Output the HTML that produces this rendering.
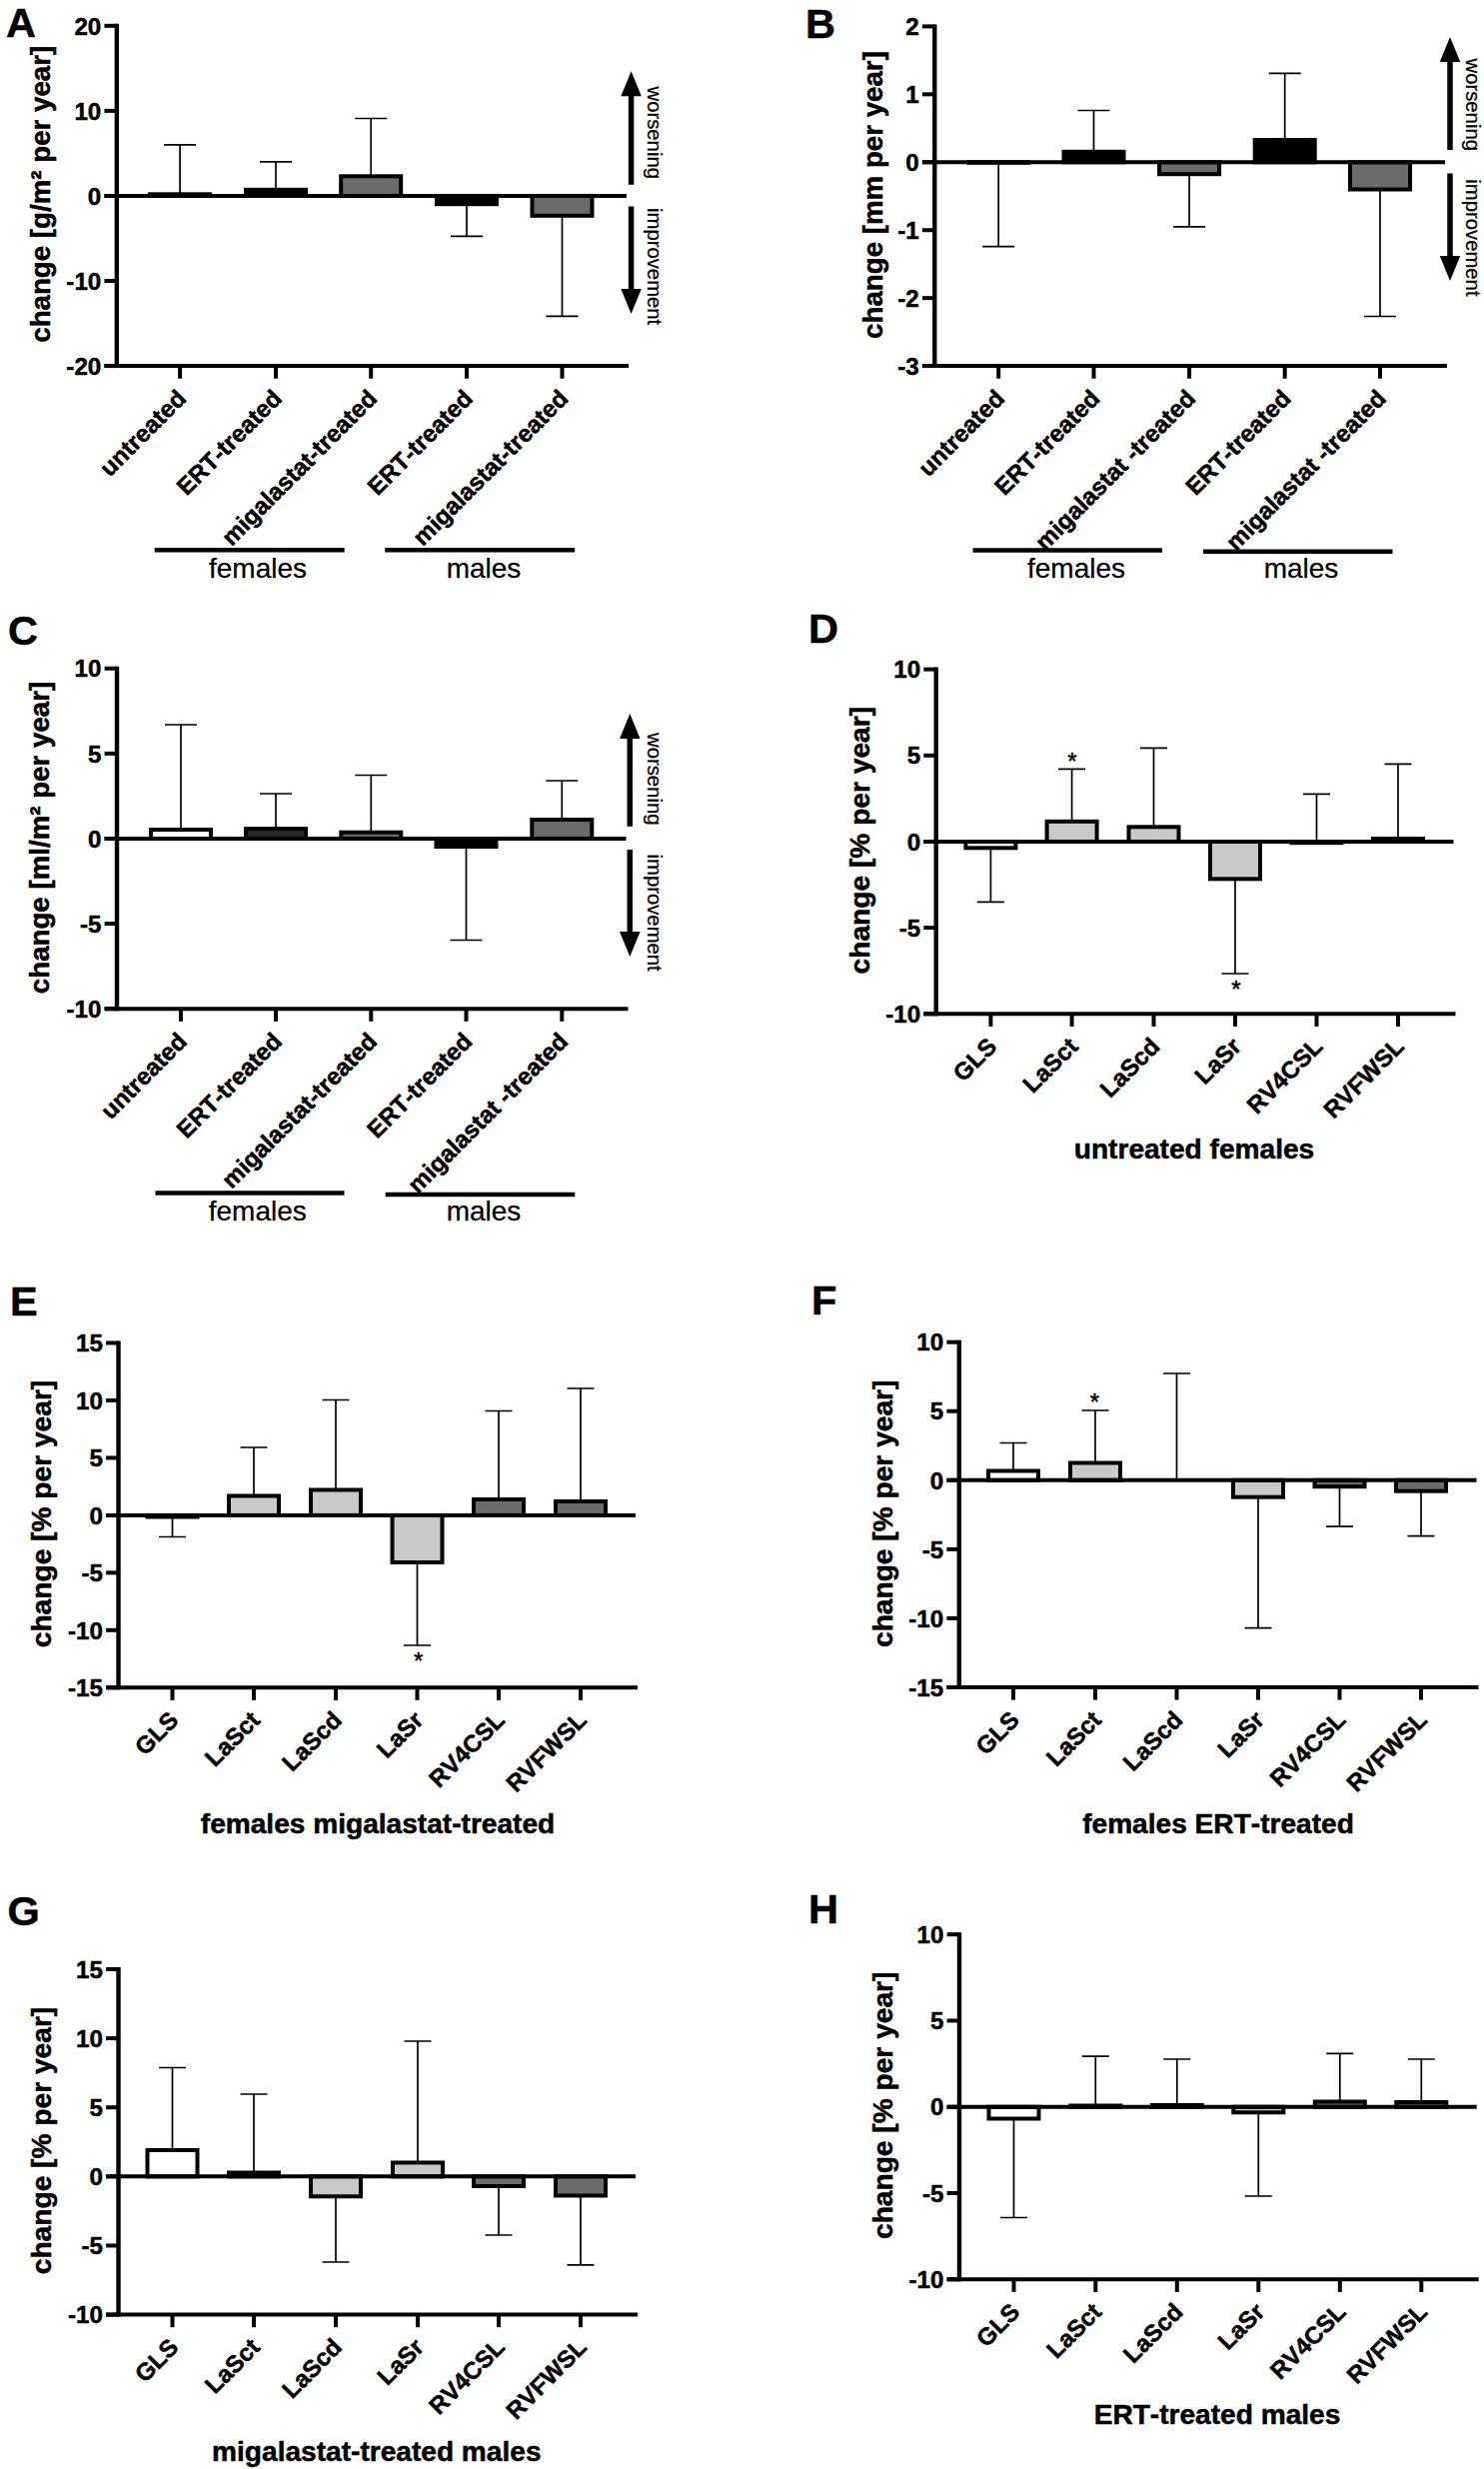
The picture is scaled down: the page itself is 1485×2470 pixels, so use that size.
<!DOCTYPE html>
<html lang="en"><head><meta charset="utf-8"><title>Figure</title>
<style>
html,body{margin:0;padding:0;background:#fff}
body{width:1485px;height:2470px;overflow:hidden}
text{stroke:#000;stroke-width:.25px;stroke-linejoin:round}
text[font-weight="700"]{stroke-width:.5px}
svg{display:block;font-kerning:none;font-family:"Liberation Sans",sans-serif;fill:#000}
</style></head><body>
<svg width="1485" height="2470" viewBox="0 0 1485 2470">
<rect width="1485" height="2470" fill="#fff"/>
<g>
<text x="6" y="37" font-size="41.5" font-weight="700">A</text>
<text transform="translate(49.5,194.3) rotate(-90)" text-anchor="middle" font-size="27.7" font-weight="700">change [g/m² per year]</text>
<path d="M180.1 194.3V144.8M164.1 144.8H196.1" stroke="#000" stroke-width="1.7" fill="none"/>
<rect x="150.10" y="194.30" width="60.00" height="1.65" fill="#fff" stroke="#000" stroke-width="4"/>
<path d="M276 189.8V161.8M260.0 161.8H292.0" stroke="#000" stroke-width="1.7" fill="none"/>
<rect x="246.00" y="189.80" width="60.00" height="6.15" fill="#000" stroke="#000" stroke-width="4"/>
<path d="M371.2 176.3V118.5M355.2 118.5H387.2" stroke="#000" stroke-width="1.7" fill="none"/>
<rect x="341.20" y="176.30" width="60.00" height="19.65" fill="#6b6b6b" stroke="#000" stroke-width="4"/>
<path d="M467 204.2V236.4M451.0 236.4H483.0" stroke="#000" stroke-width="1.7" fill="none"/>
<rect x="437.00" y="195.95" width="60.00" height="8.25" fill="#000" stroke="#000" stroke-width="4"/>
<path d="M562.5 215.8V316.4M546.5 316.4H578.5" stroke="#000" stroke-width="1.7" fill="none"/>
<rect x="532.50" y="195.95" width="60.00" height="19.85" fill="#6b6b6b" stroke="#000" stroke-width="4"/>
<path d="M116.85 23.8V368.1" stroke="#000" stroke-width="4.4"/>
<path d="M104.44999999999999 366.1H629M104.44999999999999 195.95H627" stroke="#000" stroke-width="4"/>
<path d="M104.44999999999999 25.80H116.85" stroke="#000" stroke-width="4"/>
<text x="101.25" y="34.50" text-anchor="end" font-size="24.15" font-weight="700">20</text>
<path d="M104.44999999999999 110.88H116.85" stroke="#000" stroke-width="4"/>
<text x="101.25" y="119.58" text-anchor="end" font-size="24.15" font-weight="700">10</text>
<path d="M104.44999999999999 195.95H116.85" stroke="#000" stroke-width="4"/>
<text x="101.25" y="204.65" text-anchor="end" font-size="24.15" font-weight="700">0</text>
<path d="M104.44999999999999 281.02H116.85" stroke="#000" stroke-width="4"/>
<text x="101.25" y="289.72" text-anchor="end" font-size="24.15" font-weight="700">-10</text>
<path d="M104.44999999999999 366.10H116.85" stroke="#000" stroke-width="4"/>
<text x="101.25" y="374.80" text-anchor="end" font-size="24.15" font-weight="700">-20</text>
<path d="M180.1 366.1V378.70000000000005" stroke="#000" stroke-width="4"/>
<text transform="translate(187.6,400.1) rotate(-45)" text-anchor="end" font-size="24.15" font-weight="700">untreated</text>
<path d="M276 366.1V378.70000000000005" stroke="#000" stroke-width="4"/>
<text transform="translate(283.5,400.1) rotate(-45)" text-anchor="end" font-size="24.15" font-weight="700">ERT-treated</text>
<path d="M371.2 366.1V378.70000000000005" stroke="#000" stroke-width="4"/>
<text transform="translate(378.7,400.1) rotate(-45)" text-anchor="end" font-size="24.15" font-weight="700">migalastat-treated</text>
<path d="M467 366.1V378.70000000000005" stroke="#000" stroke-width="4"/>
<text transform="translate(474.5,400.1) rotate(-45)" text-anchor="end" font-size="24.15" font-weight="700">ERT-treated</text>
<path d="M562.5 366.1V378.70000000000005" stroke="#000" stroke-width="4"/>
<text transform="translate(570.0,400.1) rotate(-45)" text-anchor="end" font-size="24.15" font-weight="700">migalastat-treated</text>
<path d="M154.7 550.2H344.7" stroke="#000" stroke-width="4.5"/>
<text x="258" y="577.7" text-anchor="middle" font-size="28">females</text>
<path d="M385.2 550.2H575.2" stroke="#000" stroke-width="4.5"/>
<text x="484" y="577.7" text-anchor="middle" font-size="28">males</text>
<path d="M628.85 184.8V96.25H621.35L631.6 71.25L641.85 96.25H634.35V184.8Z" fill="#000"/>
<path d="M628.85 206.5V289H621.35L631.6 314L641.85 289H634.35V206.5Z" fill="#000"/>
<text transform="translate(647.5,86.5) rotate(90)" font-size="20.3">worsening</text>
<text transform="translate(647.5,208) rotate(90)" font-size="20.3">improvement</text>
</g>
<g>
<text x="806" y="37.5" font-size="41.5" font-weight="700">B</text>
<text transform="translate(882.5,195) rotate(-90)" text-anchor="middle" font-size="27.7" font-weight="700">change [mm per year]</text>
<path d="M999.2 162.8V246.7M983.2 246.7H1015.2" stroke="#000" stroke-width="1.7" fill="none"/>
<rect x="969.20" y="162.28" width="60.00" height="0.52" fill="#fff" stroke="#000" stroke-width="4"/>
<path d="M1094.5 151.8V110.5M1078.5 110.5H1110.5" stroke="#000" stroke-width="1.7" fill="none"/>
<rect x="1064.50" y="151.80" width="60.00" height="10.48" fill="#000" stroke="#000" stroke-width="4"/>
<path d="M1190.1 174.2V226.8M1174.1 226.8H1206.1" stroke="#000" stroke-width="1.7" fill="none"/>
<rect x="1160.10" y="162.28" width="60.00" height="11.92" fill="#6b6b6b" stroke="#000" stroke-width="4"/>
<path d="M1285.7 140V73.3M1269.7 73.3H1301.7" stroke="#000" stroke-width="1.7" fill="none"/>
<rect x="1255.70" y="140.00" width="60.00" height="22.28" fill="#000" stroke="#000" stroke-width="4"/>
<path d="M1381 189.5V316.5M1365.0 316.5H1397.0" stroke="#000" stroke-width="1.7" fill="none"/>
<rect x="1351.00" y="162.28" width="60.00" height="27.22" fill="#6b6b6b" stroke="#000" stroke-width="4"/>
<path d="M935.3 24.4V368.1" stroke="#000" stroke-width="4.4"/>
<path d="M922.9 366.1H1448M922.9 162.28H1446" stroke="#000" stroke-width="4"/>
<path d="M922.9 26.40H935.3" stroke="#000" stroke-width="4"/>
<text x="919.70" y="35.10" text-anchor="end" font-size="24.15" font-weight="700">2</text>
<path d="M922.9 94.34H935.3" stroke="#000" stroke-width="4"/>
<text x="919.70" y="103.04" text-anchor="end" font-size="24.15" font-weight="700">1</text>
<path d="M922.9 162.28H935.3" stroke="#000" stroke-width="4"/>
<text x="919.70" y="170.98" text-anchor="end" font-size="24.15" font-weight="700">0</text>
<path d="M922.9 230.22H935.3" stroke="#000" stroke-width="4"/>
<text x="919.70" y="238.92" text-anchor="end" font-size="24.15" font-weight="700">-1</text>
<path d="M922.9 298.16H935.3" stroke="#000" stroke-width="4"/>
<text x="919.70" y="306.86" text-anchor="end" font-size="24.15" font-weight="700">-2</text>
<path d="M922.9 366.10H935.3" stroke="#000" stroke-width="4"/>
<text x="919.70" y="374.80" text-anchor="end" font-size="24.15" font-weight="700">-3</text>
<path d="M999.2 366.1V378.70000000000005" stroke="#000" stroke-width="4"/>
<text transform="translate(1006.7,400.1) rotate(-45)" text-anchor="end" font-size="24.15" font-weight="700">untreated</text>
<path d="M1094.5 366.1V378.70000000000005" stroke="#000" stroke-width="4"/>
<text transform="translate(1102.0,400.1) rotate(-45)" text-anchor="end" font-size="24.15" font-weight="700">ERT-treated</text>
<path d="M1190.1 366.1V378.70000000000005" stroke="#000" stroke-width="4"/>
<text transform="translate(1197.6,400.1) rotate(-45)" text-anchor="end" font-size="24.15" font-weight="700">migalastat -treated</text>
<path d="M1285.7 366.1V378.70000000000005" stroke="#000" stroke-width="4"/>
<text transform="translate(1293.2,400.1) rotate(-45)" text-anchor="end" font-size="24.15" font-weight="700">ERT-treated</text>
<path d="M1381 366.1V378.70000000000005" stroke="#000" stroke-width="4"/>
<text transform="translate(1388.5,400.1) rotate(-45)" text-anchor="end" font-size="24.15" font-weight="700">migalastat -treated</text>
<path d="M973.5 550.5H1163" stroke="#000" stroke-width="4.5"/>
<text x="1077" y="578" text-anchor="middle" font-size="28">females</text>
<path d="M1204 551.7H1393.5" stroke="#000" stroke-width="4.5"/>
<text x="1302" y="578" text-anchor="middle" font-size="28">males</text>
<path d="M1448.25 150V62H1440.75L1451 37L1461.25 62H1453.75V150Z" fill="#000"/>
<path d="M1448.25 173.5V256H1440.75L1451 281L1461.25 256H1453.75V173.5Z" fill="#000"/>
<text transform="translate(1467,58.5) rotate(90)" font-size="20.3">worsening</text>
<text transform="translate(1467,179.3) rotate(90)" font-size="20.3">improvement</text>
</g>
<g>
<text x="8" y="645" font-size="41.5" font-weight="700">C</text>
<text transform="translate(49.2,838) rotate(-90)" text-anchor="middle" font-size="27.7" font-weight="700">change [ml/m² per year]</text>
<path d="M181 830V725M165.0 725H197.0" stroke="#000" stroke-width="1.7" fill="none"/>
<rect x="151.00" y="830.00" width="60.00" height="8.95" fill="#fff" stroke="#000" stroke-width="4"/>
<path d="M276 829.1V794M260.0 794H292.0" stroke="#000" stroke-width="1.7" fill="none"/>
<rect x="246.00" y="829.10" width="60.00" height="9.85" fill="#282828" stroke="#000" stroke-width="4"/>
<path d="M371.3 832.7V775.5M355.3 775.5H387.3" stroke="#000" stroke-width="1.7" fill="none"/>
<rect x="341.30" y="832.70" width="60.00" height="6.25" fill="#6b6b6b" stroke="#000" stroke-width="4"/>
<path d="M466.5 847V940.5M450.5 940.5H482.5" stroke="#000" stroke-width="1.7" fill="none"/>
<rect x="436.50" y="838.95" width="60.00" height="8.05" fill="#000" stroke="#000" stroke-width="4"/>
<path d="M562.3 820V781M546.3 781H578.3" stroke="#000" stroke-width="1.7" fill="none"/>
<rect x="532.30" y="820.00" width="60.00" height="18.95" fill="#6b6b6b" stroke="#000" stroke-width="4"/>
<path d="M117 666.7V1011.2" stroke="#000" stroke-width="4.4"/>
<path d="M104.6 1009.2H628.5M104.6 838.95H626.5" stroke="#000" stroke-width="4"/>
<path d="M104.6 668.70H117" stroke="#000" stroke-width="4"/>
<text x="101.40" y="677.40" text-anchor="end" font-size="24.15" font-weight="700">10</text>
<path d="M104.6 753.83H117" stroke="#000" stroke-width="4"/>
<text x="101.40" y="762.53" text-anchor="end" font-size="24.15" font-weight="700">5</text>
<path d="M104.6 838.95H117" stroke="#000" stroke-width="4"/>
<text x="101.40" y="847.65" text-anchor="end" font-size="24.15" font-weight="700">0</text>
<path d="M104.6 924.08H117" stroke="#000" stroke-width="4"/>
<text x="101.40" y="932.78" text-anchor="end" font-size="24.15" font-weight="700">-5</text>
<path d="M104.6 1009.20H117" stroke="#000" stroke-width="4"/>
<text x="101.40" y="1017.90" text-anchor="end" font-size="24.15" font-weight="700">-10</text>
<path d="M181 1009.2V1021.8000000000001" stroke="#000" stroke-width="4"/>
<text transform="translate(188.5,1043.2) rotate(-45)" text-anchor="end" font-size="24.15" font-weight="700">untreated</text>
<path d="M276 1009.2V1021.8000000000001" stroke="#000" stroke-width="4"/>
<text transform="translate(283.5,1043.2) rotate(-45)" text-anchor="end" font-size="24.15" font-weight="700">ERT-treated</text>
<path d="M371.3 1009.2V1021.8000000000001" stroke="#000" stroke-width="4"/>
<text transform="translate(378.8,1043.2) rotate(-45)" text-anchor="end" font-size="24.15" font-weight="700">migalastat-treated</text>
<path d="M466.5 1009.2V1021.8000000000001" stroke="#000" stroke-width="4"/>
<text transform="translate(474.0,1043.2) rotate(-45)" text-anchor="end" font-size="24.15" font-weight="700">ERT-treated</text>
<path d="M562.3 1009.2V1021.8000000000001" stroke="#000" stroke-width="4"/>
<text transform="translate(569.8,1043.2) rotate(-45)" text-anchor="end" font-size="24.15" font-weight="700">migalastat -treated</text>
<path d="M155.5 1193.5H344.5" stroke="#000" stroke-width="4.5"/>
<text x="257.8" y="1220.8" text-anchor="middle" font-size="28">females</text>
<path d="M385.7 1195H575.3" stroke="#000" stroke-width="4.5"/>
<text x="484" y="1220.8" text-anchor="middle" font-size="28">males</text>
<path d="M627.55 826.8V739H620.05L630.3 714L640.55 739H633.05V826.8Z" fill="#000"/>
<path d="M627.55 850V932H620.05L630.3 957L640.55 932H633.05V850Z" fill="#000"/>
<text transform="translate(647.5,733) rotate(90)" font-size="20.3">worsening</text>
<text transform="translate(647.5,854.5) rotate(90)" font-size="20.3">improvement</text>
</g>
<g>
<text x="809" y="642.8" font-size="41.5" font-weight="700">D</text>
<text transform="translate(869.8,840.7) rotate(-90)" text-anchor="middle" font-size="28.15" font-weight="700">change [% per year]</text>
<path d="M991.4 848.3V902.3M977.9 902.3H1004.9" stroke="#000" stroke-width="1.7" fill="none"/>
<rect x="966.40" y="841.95" width="50.00" height="6.35" fill="#fff" stroke="#000" stroke-width="4"/>
<path d="M1072.6 821.8V769.3M1059.1 769.3H1086.1" stroke="#000" stroke-width="1.7" fill="none"/>
<rect x="1047.60" y="821.80" width="50.00" height="20.15" fill="#c9c9c9" stroke="#000" stroke-width="4"/>
<path d="M1154.5 827.3V748.3M1141.0 748.3H1168.0" stroke="#000" stroke-width="1.7" fill="none"/>
<rect x="1129.50" y="827.30" width="50.00" height="14.65" fill="#c9c9c9" stroke="#000" stroke-width="4"/>
<path d="M1236 879.3V974M1222.5 974H1249.5" stroke="#000" stroke-width="1.7" fill="none"/>
<rect x="1211.00" y="841.95" width="50.00" height="37.35" fill="#c9c9c9" stroke="#000" stroke-width="4"/>
<path d="M1317.5 843.2V794.3M1304.0 794.3H1331.0" stroke="#000" stroke-width="1.7" fill="none"/>
<rect x="1292.50" y="841.95" width="50.00" height="1.25" fill="#282828" stroke="#000" stroke-width="4"/>
<path d="M1399 839V764.3M1385.5 764.3H1412.5" stroke="#000" stroke-width="1.7" fill="none"/>
<rect x="1374.00" y="839.00" width="50.00" height="2.95" fill="#282828" stroke="#000" stroke-width="4"/>
<path d="M936.7 667.6V1016.3" stroke="#000" stroke-width="4.4"/>
<path d="M924.3000000000001 1014.3H1456.5M924.3000000000001 841.95H1454.5" stroke="#000" stroke-width="4"/>
<path d="M924.3000000000001 669.60H936.7" stroke="#000" stroke-width="4"/>
<text x="921.10" y="678.30" text-anchor="end" font-size="24.15" font-weight="700">10</text>
<path d="M924.3000000000001 755.77H936.7" stroke="#000" stroke-width="4"/>
<text x="921.10" y="764.48" text-anchor="end" font-size="24.15" font-weight="700">5</text>
<path d="M924.3000000000001 841.95H936.7" stroke="#000" stroke-width="4"/>
<text x="921.10" y="850.65" text-anchor="end" font-size="24.15" font-weight="700">0</text>
<path d="M924.3000000000001 928.12H936.7" stroke="#000" stroke-width="4"/>
<text x="921.10" y="936.83" text-anchor="end" font-size="24.15" font-weight="700">-5</text>
<path d="M924.3000000000001 1014.30H936.7" stroke="#000" stroke-width="4"/>
<text x="921.10" y="1023.00" text-anchor="end" font-size="24.15" font-weight="700">-10</text>
<path d="M991.4 1014.3V1026.8999999999999" stroke="#000" stroke-width="4"/>
<text transform="translate(998.9,1048.3) rotate(-45)" text-anchor="end" font-size="24.15" font-weight="700">GLS</text>
<path d="M1072.6 1014.3V1026.8999999999999" stroke="#000" stroke-width="4"/>
<text transform="translate(1080.1,1048.3) rotate(-45)" text-anchor="end" font-size="24.15" font-weight="700">LaSct</text>
<path d="M1154.5 1014.3V1026.8999999999999" stroke="#000" stroke-width="4"/>
<text transform="translate(1162.0,1048.3) rotate(-45)" text-anchor="end" font-size="24.15" font-weight="700">LaScd</text>
<path d="M1236 1014.3V1026.8999999999999" stroke="#000" stroke-width="4"/>
<text transform="translate(1243.5,1048.3) rotate(-45)" text-anchor="end" font-size="24.15" font-weight="700">LaSr</text>
<path d="M1317.5 1014.3V1026.8999999999999" stroke="#000" stroke-width="4"/>
<text transform="translate(1325.0,1048.3) rotate(-45)" text-anchor="end" font-size="24.15" font-weight="700">RV4CSL</text>
<path d="M1399 1014.3V1026.8999999999999" stroke="#000" stroke-width="4"/>
<text transform="translate(1406.5,1048.3) rotate(-45)" text-anchor="end" font-size="24.15" font-weight="700">RVFWSL</text>
<text x="1195" y="1159.3" text-anchor="middle" font-size="28.1" font-weight="700">untreated females</text>
<text x="1072.9" y="769.5" text-anchor="middle" font-size="24" style="stroke-width:.45px">*</text>
<text x="1236.9" y="998.2" text-anchor="middle" font-size="24" style="stroke-width:.45px">*</text>
</g>
<g>
<text x="10" y="1316" font-size="41.5" font-weight="700">E</text>
<text transform="translate(50.8,1514.5) rotate(-90)" text-anchor="middle" font-size="28.15" font-weight="700">change [% per year]</text>
<path d="M172.5 1517.5V1537.5M159.0 1537.5H186.0" stroke="#000" stroke-width="1.7" fill="none"/>
<rect x="147.50" y="1515.90" width="50.00" height="1.60" fill="#fff" stroke="#000" stroke-width="4"/>
<path d="M254 1496.5V1448M240.5 1448H267.5" stroke="#000" stroke-width="1.7" fill="none"/>
<rect x="229.00" y="1496.50" width="50.00" height="19.40" fill="#c9c9c9" stroke="#000" stroke-width="4"/>
<path d="M336 1490.5V1400.5M322.5 1400.5H349.5" stroke="#000" stroke-width="1.7" fill="none"/>
<rect x="311.00" y="1490.50" width="50.00" height="25.40" fill="#c9c9c9" stroke="#000" stroke-width="4"/>
<path d="M417.5 1563V1646M404.0 1646H431.0" stroke="#000" stroke-width="1.7" fill="none"/>
<rect x="392.50" y="1515.90" width="50.00" height="47.10" fill="#c9c9c9" stroke="#000" stroke-width="4"/>
<path d="M499 1500V1411.5M485.5 1411.5H512.5" stroke="#000" stroke-width="1.7" fill="none"/>
<rect x="474.00" y="1500.00" width="50.00" height="15.90" fill="#6b6b6b" stroke="#000" stroke-width="4"/>
<path d="M581 1502V1389M567.5 1389H594.5" stroke="#000" stroke-width="1.7" fill="none"/>
<rect x="556.00" y="1502.00" width="50.00" height="13.90" fill="#6b6b6b" stroke="#000" stroke-width="4"/>
<path d="M118.5 1341.5V1690.3" stroke="#000" stroke-width="4.4"/>
<path d="M106.1 1688.3H638M106.1 1515.90H636" stroke="#000" stroke-width="4"/>
<path d="M106.1 1343.50H118.5" stroke="#000" stroke-width="4"/>
<text x="102.90" y="1352.20" text-anchor="end" font-size="24.15" font-weight="700">15</text>
<path d="M106.1 1400.97H118.5" stroke="#000" stroke-width="4"/>
<text x="102.90" y="1409.67" text-anchor="end" font-size="24.15" font-weight="700">10</text>
<path d="M106.1 1458.43H118.5" stroke="#000" stroke-width="4"/>
<text x="102.90" y="1467.13" text-anchor="end" font-size="24.15" font-weight="700">5</text>
<path d="M106.1 1515.90H118.5" stroke="#000" stroke-width="4"/>
<text x="102.90" y="1524.60" text-anchor="end" font-size="24.15" font-weight="700">0</text>
<path d="M106.1 1573.37H118.5" stroke="#000" stroke-width="4"/>
<text x="102.90" y="1582.07" text-anchor="end" font-size="24.15" font-weight="700">-5</text>
<path d="M106.1 1630.83H118.5" stroke="#000" stroke-width="4"/>
<text x="102.90" y="1639.53" text-anchor="end" font-size="24.15" font-weight="700">-10</text>
<path d="M106.1 1688.30H118.5" stroke="#000" stroke-width="4"/>
<text x="102.90" y="1697.00" text-anchor="end" font-size="24.15" font-weight="700">-15</text>
<path d="M172.5 1688.3V1700.8999999999999" stroke="#000" stroke-width="4"/>
<text transform="translate(180.0,1722.3) rotate(-45)" text-anchor="end" font-size="24.15" font-weight="700">GLS</text>
<path d="M254 1688.3V1700.8999999999999" stroke="#000" stroke-width="4"/>
<text transform="translate(261.5,1722.3) rotate(-45)" text-anchor="end" font-size="24.15" font-weight="700">LaSct</text>
<path d="M336 1688.3V1700.8999999999999" stroke="#000" stroke-width="4"/>
<text transform="translate(343.5,1722.3) rotate(-45)" text-anchor="end" font-size="24.15" font-weight="700">LaScd</text>
<path d="M417.5 1688.3V1700.8999999999999" stroke="#000" stroke-width="4"/>
<text transform="translate(425.0,1722.3) rotate(-45)" text-anchor="end" font-size="24.15" font-weight="700">LaSr</text>
<path d="M499 1688.3V1700.8999999999999" stroke="#000" stroke-width="4"/>
<text transform="translate(506.5,1722.3) rotate(-45)" text-anchor="end" font-size="24.15" font-weight="700">RV4CSL</text>
<path d="M581 1688.3V1700.8999999999999" stroke="#000" stroke-width="4"/>
<text transform="translate(588.5,1722.3) rotate(-45)" text-anchor="end" font-size="24.15" font-weight="700">RVFWSL</text>
<text x="378" y="1833.7" text-anchor="middle" font-size="28.1" font-weight="700">females migalastat-treated</text>
<text x="418.6" y="1670.3" text-anchor="middle" font-size="24" style="stroke-width:.45px">*</text>
</g>
<g>
<text x="812" y="1315" font-size="41.5" font-weight="700">F</text>
<text transform="translate(892.5,1514.3) rotate(-90)" text-anchor="middle" font-size="28.15" font-weight="700">change [% per year]</text>
<path d="M1014 1471.5V1443.5M1000.5 1443.5H1027.5" stroke="#000" stroke-width="1.7" fill="none"/>
<rect x="989.00" y="1471.50" width="50.00" height="9.32" fill="#fff" stroke="#000" stroke-width="4"/>
<path d="M1096 1463.5V1411M1082.5 1411H1109.5" stroke="#000" stroke-width="1.7" fill="none"/>
<rect x="1071.00" y="1463.50" width="50.00" height="17.32" fill="#c9c9c9" stroke="#000" stroke-width="4"/>
<path d="M1177.5 1480.82V1374M1164.0 1374H1191.0" stroke="#000" stroke-width="1.7" fill="none"/>
<path d="M1259 1497.7V1628.7M1245.5 1628.7H1272.5" stroke="#000" stroke-width="1.7" fill="none"/>
<rect x="1234.00" y="1480.82" width="50.00" height="16.88" fill="#c9c9c9" stroke="#000" stroke-width="4"/>
<path d="M1340.5 1487.2V1527.2M1327.0 1527.2H1354.0" stroke="#000" stroke-width="1.7" fill="none"/>
<rect x="1315.50" y="1480.82" width="50.00" height="6.38" fill="#6b6b6b" stroke="#000" stroke-width="4"/>
<path d="M1422 1491.7V1536.7M1408.5 1536.7H1435.5" stroke="#000" stroke-width="1.7" fill="none"/>
<rect x="1397.00" y="1480.82" width="50.00" height="10.88" fill="#6b6b6b" stroke="#000" stroke-width="4"/>
<path d="M959.8 1340.7V1690.0" stroke="#000" stroke-width="4.4"/>
<path d="M947.4 1688H1479.5M947.4 1480.82H1477.5" stroke="#000" stroke-width="4"/>
<path d="M947.4 1342.70H959.8" stroke="#000" stroke-width="4"/>
<text x="944.20" y="1351.40" text-anchor="end" font-size="24.15" font-weight="700">10</text>
<path d="M947.4 1411.76H959.8" stroke="#000" stroke-width="4"/>
<text x="944.20" y="1420.46" text-anchor="end" font-size="24.15" font-weight="700">5</text>
<path d="M947.4 1480.82H959.8" stroke="#000" stroke-width="4"/>
<text x="944.20" y="1489.52" text-anchor="end" font-size="24.15" font-weight="700">0</text>
<path d="M947.4 1549.88H959.8" stroke="#000" stroke-width="4"/>
<text x="944.20" y="1558.58" text-anchor="end" font-size="24.15" font-weight="700">-5</text>
<path d="M947.4 1618.94H959.8" stroke="#000" stroke-width="4"/>
<text x="944.20" y="1627.64" text-anchor="end" font-size="24.15" font-weight="700">-10</text>
<path d="M947.4 1688.00H959.8" stroke="#000" stroke-width="4"/>
<text x="944.20" y="1696.70" text-anchor="end" font-size="24.15" font-weight="700">-15</text>
<path d="M1014 1688V1700.6" stroke="#000" stroke-width="4"/>
<text transform="translate(1021.5,1722) rotate(-45)" text-anchor="end" font-size="24.15" font-weight="700">GLS</text>
<path d="M1096 1688V1700.6" stroke="#000" stroke-width="4"/>
<text transform="translate(1103.5,1722) rotate(-45)" text-anchor="end" font-size="24.15" font-weight="700">LaSct</text>
<path d="M1177.5 1688V1700.6" stroke="#000" stroke-width="4"/>
<text transform="translate(1185.0,1722) rotate(-45)" text-anchor="end" font-size="24.15" font-weight="700">LaScd</text>
<path d="M1259 1688V1700.6" stroke="#000" stroke-width="4"/>
<text transform="translate(1266.5,1722) rotate(-45)" text-anchor="end" font-size="24.15" font-weight="700">LaSr</text>
<path d="M1340.5 1688V1700.6" stroke="#000" stroke-width="4"/>
<text transform="translate(1348.0,1722) rotate(-45)" text-anchor="end" font-size="24.15" font-weight="700">RV4CSL</text>
<path d="M1422 1688V1700.6" stroke="#000" stroke-width="4"/>
<text transform="translate(1429.5,1722) rotate(-45)" text-anchor="end" font-size="24.15" font-weight="700">RVFWSL</text>
<text x="1219" y="1833.7" text-anchor="middle" font-size="28.1" font-weight="700">females ERT-treated</text>
<text x="1095.3" y="1410.6" text-anchor="middle" font-size="24" style="stroke-width:.45px">*</text>
</g>
<g>
<text x="7.5" y="1926" font-size="41.5" font-weight="700">G</text>
<text transform="translate(50.7,2141.5) rotate(-90)" text-anchor="middle" font-size="28.15" font-weight="700">change [% per year]</text>
<path d="M172.5 2151V2068.5M159.0 2068.5H186.0" stroke="#000" stroke-width="1.7" fill="none"/>
<rect x="147.50" y="2151.00" width="50.00" height="26.36" fill="#fff" stroke="#000" stroke-width="4"/>
<path d="M254 2173.5V2095M240.5 2095H267.5" stroke="#000" stroke-width="1.7" fill="none"/>
<rect x="229.00" y="2173.50" width="50.00" height="3.86" fill="#000" stroke="#000" stroke-width="4"/>
<path d="M336 2197.3V2263M322.5 2263H349.5" stroke="#000" stroke-width="1.7" fill="none"/>
<rect x="311.00" y="2177.36" width="50.00" height="19.94" fill="#c9c9c9" stroke="#000" stroke-width="4"/>
<path d="M418 2163.5V2042M404.5 2042H431.5" stroke="#000" stroke-width="1.7" fill="none"/>
<rect x="393.00" y="2163.50" width="50.00" height="13.86" fill="#c9c9c9" stroke="#000" stroke-width="4"/>
<path d="M499 2187V2236M485.5 2236H512.5" stroke="#000" stroke-width="1.7" fill="none"/>
<rect x="474.00" y="2177.36" width="50.00" height="9.64" fill="#6b6b6b" stroke="#000" stroke-width="4"/>
<path d="M581 2196.5V2265.8M567.5 2265.8H594.5" stroke="#000" stroke-width="1.7" fill="none"/>
<rect x="556.00" y="2177.36" width="50.00" height="19.14" fill="#6b6b6b" stroke="#000" stroke-width="4"/>
<path d="M118.5 1968.0V2317.6" stroke="#000" stroke-width="4.4"/>
<path d="M106.1 2315.6H638M106.1 2177.36H636" stroke="#000" stroke-width="4"/>
<path d="M106.1 1970.00H118.5" stroke="#000" stroke-width="4"/>
<text x="102.90" y="1978.70" text-anchor="end" font-size="24.15" font-weight="700">15</text>
<path d="M106.1 2039.12H118.5" stroke="#000" stroke-width="4"/>
<text x="102.90" y="2047.82" text-anchor="end" font-size="24.15" font-weight="700">10</text>
<path d="M106.1 2108.24H118.5" stroke="#000" stroke-width="4"/>
<text x="102.90" y="2116.94" text-anchor="end" font-size="24.15" font-weight="700">5</text>
<path d="M106.1 2177.36H118.5" stroke="#000" stroke-width="4"/>
<text x="102.90" y="2186.06" text-anchor="end" font-size="24.15" font-weight="700">0</text>
<path d="M106.1 2246.48H118.5" stroke="#000" stroke-width="4"/>
<text x="102.90" y="2255.18" text-anchor="end" font-size="24.15" font-weight="700">-5</text>
<path d="M106.1 2315.60H118.5" stroke="#000" stroke-width="4"/>
<text x="102.90" y="2324.30" text-anchor="end" font-size="24.15" font-weight="700">-10</text>
<path d="M172.5 2315.6V2328.2" stroke="#000" stroke-width="4"/>
<text transform="translate(180.0,2349.6) rotate(-45)" text-anchor="end" font-size="24.15" font-weight="700">GLS</text>
<path d="M254 2315.6V2328.2" stroke="#000" stroke-width="4"/>
<text transform="translate(261.5,2349.6) rotate(-45)" text-anchor="end" font-size="24.15" font-weight="700">LaSct</text>
<path d="M336 2315.6V2328.2" stroke="#000" stroke-width="4"/>
<text transform="translate(343.5,2349.6) rotate(-45)" text-anchor="end" font-size="24.15" font-weight="700">LaScd</text>
<path d="M418 2315.6V2328.2" stroke="#000" stroke-width="4"/>
<text transform="translate(425.5,2349.6) rotate(-45)" text-anchor="end" font-size="24.15" font-weight="700">LaSr</text>
<path d="M499 2315.6V2328.2" stroke="#000" stroke-width="4"/>
<text transform="translate(506.5,2349.6) rotate(-45)" text-anchor="end" font-size="24.15" font-weight="700">RV4CSL</text>
<path d="M581 2315.6V2328.2" stroke="#000" stroke-width="4"/>
<text transform="translate(588.5,2349.6) rotate(-45)" text-anchor="end" font-size="24.15" font-weight="700">RVFWSL</text>
<text x="376.8" y="2461.8" text-anchor="middle" font-size="28.1" font-weight="700">migalastat-treated males</text>
</g>
<g>
<text x="809" y="1923.5" font-size="41.5" font-weight="700">H</text>
<text transform="translate(892.5,2106.3) rotate(-90)" text-anchor="middle" font-size="28.15" font-weight="700">change [% per year]</text>
<path d="M1014.5 2119.5V2218.5M1001.0 2218.5H1028.0" stroke="#000" stroke-width="1.7" fill="none"/>
<rect x="989.50" y="2107.75" width="50.00" height="11.75" fill="#fff" stroke="#000" stroke-width="4"/>
<path d="M1096.3 2106.5V2057.2M1082.8 2057.2H1109.8" stroke="#000" stroke-width="1.7" fill="none"/>
<rect x="1071.30" y="2106.50" width="50.00" height="1.25" fill="#000" stroke="#000" stroke-width="4"/>
<path d="M1177.8 2106V2060M1164.3 2060H1191.3" stroke="#000" stroke-width="1.7" fill="none"/>
<rect x="1152.80" y="2106.00" width="50.00" height="1.75" fill="#c9c9c9" stroke="#000" stroke-width="4"/>
<path d="M1259.3 2113.3V2197M1245.8 2197H1272.8" stroke="#000" stroke-width="1.7" fill="none"/>
<rect x="1234.30" y="2107.75" width="50.00" height="5.55" fill="#c9c9c9" stroke="#000" stroke-width="4"/>
<path d="M1340.8 2102.5V2054.3M1327.3 2054.3H1354.3" stroke="#000" stroke-width="1.7" fill="none"/>
<rect x="1315.80" y="2102.50" width="50.00" height="5.25" fill="#6b6b6b" stroke="#000" stroke-width="4"/>
<path d="M1422.3 2103V2060M1408.8 2060H1435.8" stroke="#000" stroke-width="1.7" fill="none"/>
<rect x="1397.30" y="2103.00" width="50.00" height="4.75" fill="#6b6b6b" stroke="#000" stroke-width="4"/>
<path d="M960 1933.2V2282.3" stroke="#000" stroke-width="4.4"/>
<path d="M947.6 2280.3H1479.7M947.6 2107.75H1477.7" stroke="#000" stroke-width="4"/>
<path d="M947.6 1935.20H960" stroke="#000" stroke-width="4"/>
<text x="944.40" y="1943.90" text-anchor="end" font-size="24.15" font-weight="700">10</text>
<path d="M947.6 2021.48H960" stroke="#000" stroke-width="4"/>
<text x="944.40" y="2030.18" text-anchor="end" font-size="24.15" font-weight="700">5</text>
<path d="M947.6 2107.75H960" stroke="#000" stroke-width="4"/>
<text x="944.40" y="2116.45" text-anchor="end" font-size="24.15" font-weight="700">0</text>
<path d="M947.6 2194.03H960" stroke="#000" stroke-width="4"/>
<text x="944.40" y="2202.72" text-anchor="end" font-size="24.15" font-weight="700">-5</text>
<path d="M947.6 2280.30H960" stroke="#000" stroke-width="4"/>
<text x="944.40" y="2289.00" text-anchor="end" font-size="24.15" font-weight="700">-10</text>
<path d="M1014.5 2280.3V2292.9" stroke="#000" stroke-width="4"/>
<text transform="translate(1022.0,2314.3) rotate(-45)" text-anchor="end" font-size="24.15" font-weight="700">GLS</text>
<path d="M1096.3 2280.3V2292.9" stroke="#000" stroke-width="4"/>
<text transform="translate(1103.8,2314.3) rotate(-45)" text-anchor="end" font-size="24.15" font-weight="700">LaSct</text>
<path d="M1177.8 2280.3V2292.9" stroke="#000" stroke-width="4"/>
<text transform="translate(1185.3,2314.3) rotate(-45)" text-anchor="end" font-size="24.15" font-weight="700">LaScd</text>
<path d="M1259.3 2280.3V2292.9" stroke="#000" stroke-width="4"/>
<text transform="translate(1266.8,2314.3) rotate(-45)" text-anchor="end" font-size="24.15" font-weight="700">LaSr</text>
<path d="M1340.8 2280.3V2292.9" stroke="#000" stroke-width="4"/>
<text transform="translate(1348.3,2314.3) rotate(-45)" text-anchor="end" font-size="24.15" font-weight="700">RV4CSL</text>
<path d="M1422.3 2280.3V2292.9" stroke="#000" stroke-width="4"/>
<text transform="translate(1429.8,2314.3) rotate(-45)" text-anchor="end" font-size="24.15" font-weight="700">RVFWSL</text>
<text x="1218" y="2424.8" text-anchor="middle" font-size="28.1" font-weight="700">ERT-treated males</text>
</g>
</svg>
</body></html>
